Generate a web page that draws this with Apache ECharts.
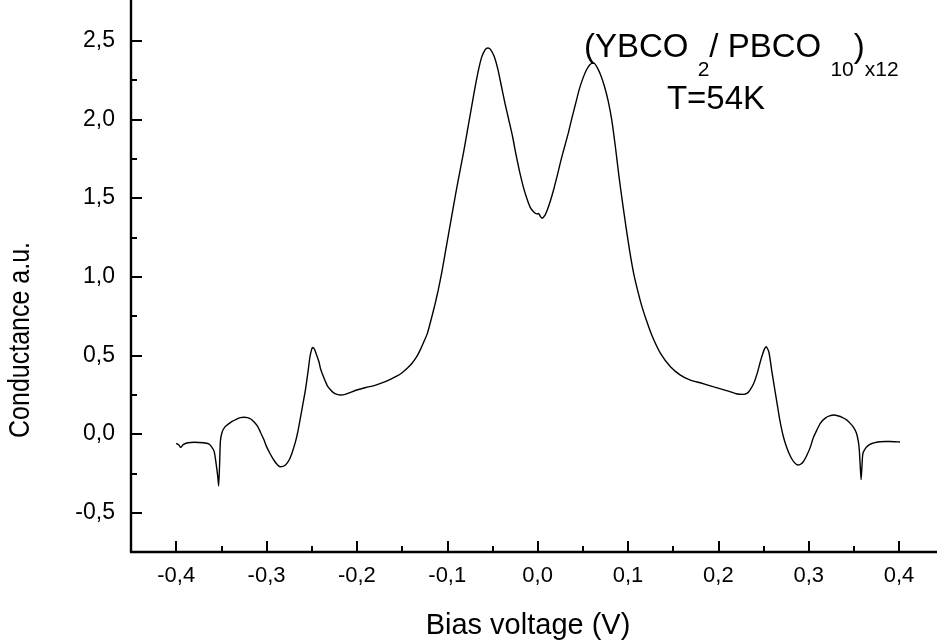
<!DOCTYPE html>
<html><head><meta charset="utf-8">
<script src="https://cdn.jsdelivr.net/npm/echarts@6/dist/echarts.min.js"></script>
<style>html,body{margin:0;padding:0;background:#fff}#c{width:937px;height:644px}</style>
</head><body><div id="c"></div>
<script>
const biasV = [
-0.400,-0.397,-0.395,-0.392,-0.387,-0.380,-0.370,-0.364,-0.361,-0.358,-0.356,-0.354,-0.353,-0.352,-0.351,-0.349,-0.346,-0.342,-0.338,-0.333,
-0.329,-0.325,-0.321,-0.317,-0.314,-0.310,-0.307,-0.303,-0.300,-0.296,-0.292,-0.288,-0.285,-0.282,-0.279,-0.275,-0.272,-0.268,-0.265,-0.261,
-0.257,-0.254,-0.252,-0.250,-0.249,-0.247,-0.245,-0.242,-0.240,-0.236,-0.233,-0.229,-0.226,-0.222,-0.218,-0.213,-0.207,-0.200,-0.190,-0.180,
-0.170,-0.163,-0.156,-0.150,-0.144,-0.139,-0.134,-0.130,-0.126,-0.122,-0.118,-0.114,-0.110,-0.106,-0.102,-0.098,-0.094,-0.090,-0.086,-0.082,
-0.078,-0.074,-0.070,-0.066,-0.062,-0.058,-0.055,-0.052,-0.048,-0.044,-0.040,-0.036,-0.032,-0.028,-0.024,-0.020,-0.016,-0.012,-0.008,-0.004,
-0.001,0.001,0.003,0.005,0.008,0.011,0.014,0.018,0.022,0.026,0.030,0.034,0.038,0.042,0.046,0.050,0.054,0.058,0.062,0.066,
0.070,0.074,0.078,0.082,0.086,0.090,0.094,0.098,0.102,0.106,0.110,0.115,0.120,0.127,0.136,0.147,0.158,
0.169,0.180,0.195,0.210,0.221,0.228,0.232,0.235,0.239,0.243,0.246,0.248,0.251,0.253,0.256,0.259,0.262,0.265,0.268,0.272,
0.276,0.280,0.284,0.288,0.291,0.294,0.298,0.302,0.305,0.309,0.313,0.318,0.323,0.328,0.333,0.337,0.342,0.346,0.350,0.353,
0.355,0.356,0.357,0.358,0.359,0.360,0.363,0.366,0.370,0.375,0.379,0.385,0.390,0.396,0.401
];
const conductance = [
-0.060,-0.070,-0.085,-0.066,-0.055,-0.052,-0.055,-0.062,-0.080,-0.110,-0.180,-0.270,-0.330,-0.200,-0.040,0.015,0.046,0.065,0.080,0.095,
0.104,0.107,0.104,0.094,0.078,0.050,0.015,-0.035,-0.080,-0.125,-0.165,-0.195,-0.208,-0.206,-0.197,-0.165,-0.123,-0.050,0.025,0.150,
0.280,0.400,0.490,0.540,0.550,0.540,0.510,0.460,0.410,0.350,0.310,0.280,0.263,0.252,0.248,0.252,0.265,0.280,0.296,0.310,
0.330,0.348,0.368,0.390,0.420,0.450,0.490,0.534,0.585,0.640,0.725,0.815,0.915,1.030,1.160,1.290,1.420,1.550,1.670,1.790,
1.920,2.050,2.180,2.300,2.395,2.445,2.455,2.445,2.400,2.320,2.210,2.100,2.000,1.900,1.780,1.670,1.575,1.500,1.440,1.410,
1.400,1.402,1.385,1.372,1.390,1.430,1.480,1.560,1.650,1.745,1.830,1.915,2.010,2.100,2.190,2.260,2.315,2.350,2.360,2.330,
2.280,2.210,2.120,2.000,1.830,1.640,1.470,1.310,1.160,1.030,0.930,0.820,0.730,0.620,0.513,0.428,0.375,
0.343,0.326,0.300,0.275,0.255,0.252,0.260,0.280,0.320,0.386,0.450,0.490,0.540,0.555,0.520,0.407,0.300,0.195,0.090,-0.017,
-0.090,-0.144,-0.180,-0.197,-0.192,-0.176,-0.135,-0.080,-0.025,0.025,0.070,0.100,0.115,0.121,0.115,0.106,0.090,0.068,0.040,0.004,
-0.050,-0.100,-0.200,-0.290,-0.200,-0.123,-0.090,-0.072,-0.060,-0.052,-0.049,-0.047,-0.047,-0.049,-0.051
];
const xTicks = [-0.4,-0.3,-0.2,-0.1,0,0.1,0.2,0.3,0.4];
const xMinorTicks = [-0.35,-0.25,-0.15,-0.05,0.05,0.15,0.25,0.35];
const yTicks = [-0.5,0,0.5,1,1.5,2,2.5];
const yMinorTicks = [-0.25,0.25,0.75,1.25,1.75,2.25];
const xTitle = 'Bias voltage (V)';
const yTitle = 'Conductance a.u.';
const tempLabel = 'T=54K';
const sampleParts = ['(YBCO ', '2', '/ PBCO ', '10', ')', 'x12'];
const sampleIsSub = [false, true, false, true, false, true];

const FONT = "'Liberation Sans', Arial, Helvetica, sans-serif";
const fmt = v => (Math.round(v*10)/10).toFixed(1).replace('.', ',');
const X_MIN = -0.45, X_MAX = 0.442, Y_MIN = -0.75, Y_MAX = 2.76;

const chart = echarts.init(document.getElementById('c'), null, {renderer:'canvas'});

// measure text to chain the annotation pieces
const mctx = document.createElement('canvas').getContext('2d');
function tw(t, size){ mctx.font = size + 'px ' + FONT; return mctx.measureText(t).width; }
const MAIN = 33, SUB = 21;
const anno = [];
let ax = 584;
sampleParts.forEach((t, i) => {
  const sub = sampleIsSub[i];
  const s = sub ? SUB : MAIN;
  anno.push({type:'text', x: ax, y: sub ? 70 : 48, silent:true,
    style:{text:t, fontSize:s, fontFamily:FONT, fill:'#000', align:'left', verticalAlign:'middle'}});
  ax += tw(t, s);
});

chart.setOption({
  animation:false,
  backgroundColor:'#fff',
  grid:{left:131, right:0, top:0, bottom:92, containLabel:false},
  xAxis:[{
    type:'value', min:X_MIN, max:X_MAX, position:'bottom',
    axisLine:{show:true, onZero:false, lineStyle:{color:'#000', width:2.4}},
    axisTick:{show:true, inside:true, length:11, lineStyle:{color:'#000', width:2}, customValues:xTicks},
    axisLabel:{show:true, customValues:xTicks, formatter:fmt, color:'#000', fontSize:22, fontFamily:FONT, margin:13},
    splitLine:{show:false}
  },{
    type:'value', min:X_MIN, max:X_MAX, position:'bottom',
    axisLine:{show:false, onZero:false},
    axisTick:{show:true, inside:true, length:6, lineStyle:{color:'#000', width:2}, customValues:xMinorTicks},
    axisLabel:{show:false}, splitLine:{show:false}
  }],
  yAxis:[{
    type:'value', min:Y_MIN, max:Y_MAX, position:'left',
    axisLine:{show:true, onZero:false, lineStyle:{color:'#000', width:2.4}},
    axisTick:{show:true, inside:true, length:11, lineStyle:{color:'#000', width:2}, customValues:yTicks},
    axisLabel:{show:true, customValues:yTicks, formatter:fmt, color:'#000', fontSize:23, fontFamily:FONT, margin:16},
    splitLine:{show:false}
  },{
    type:'value', min:Y_MIN, max:Y_MAX, position:'left',
    axisLine:{show:false, onZero:false},
    axisTick:{show:true, inside:true, length:6, lineStyle:{color:'#000', width:2}, customValues:yMinorTicks},
    axisLabel:{show:false}, splitLine:{show:false}
  }],
  series:[{
    type:'line', xAxisIndex:0, yAxisIndex:0,
    data: biasV.map((x,i)=>[x, conductance[i]]),
    showSymbol:false, symbol:'none', smooth:0.2,
    lineStyle:{color:'#000', width:1.4},
    clip:true
  }],
  graphic:[
    {type:'text', x:528, y:626, silent:true,
      style:{text:xTitle, fontSize:29, fontFamily:FONT, fill:'#000', align:'center', verticalAlign:'middle'}},
    {type:'text', x:21, y:340, rotation:Math.PI/2, scaleY:1.2, silent:true,
      style:{text:yTitle, fontSize:25, fontFamily:FONT, fill:'#000', align:'center', verticalAlign:'middle'}},
    {type:'text', x:716, y:100, silent:true,
      style:{text:tempLabel, fontSize:MAIN, fontFamily:FONT, fill:'#000', align:'center', verticalAlign:'middle'}}
  ].concat(anno)
});
</script>
</body></html>
